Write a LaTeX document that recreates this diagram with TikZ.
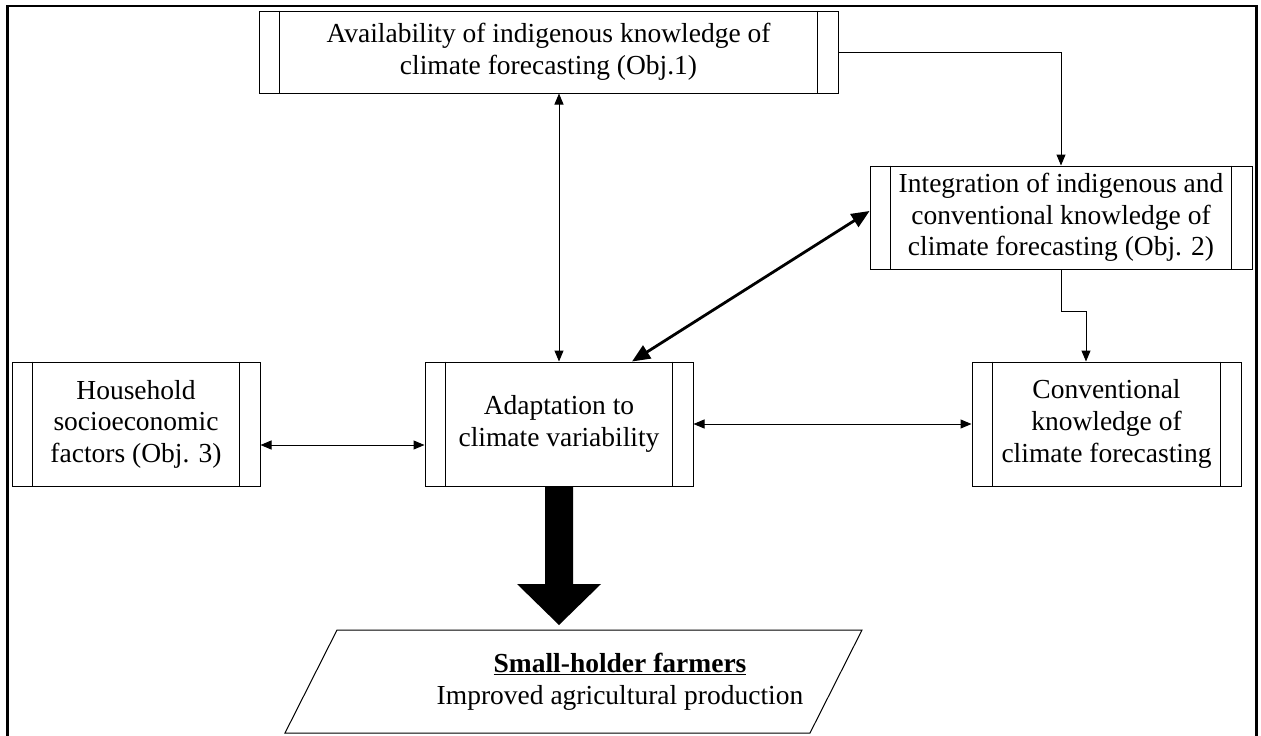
\documentclass[tikz,border=0pt]{standalone}
\usepackage{fontspec}
\setmainfont{Liberation Serif}
\usetikzlibrary{arrows.meta}

\tikzset{
  objbox/.style={draw, line width=1pt, align=center, inner sep=0pt},
  link/.style={line width=1pt, -{Triangle[length=11pt,width=9pt]}},
  twolink/.style={line width=1pt, {Triangle[length=11pt,width=9pt]}-{Triangle[length=11pt,width=9pt]}},
  thicklink/.style={line width=2.8pt, {Triangle[length=18pt,width=15pt]}-{Triangle[length=18pt,width=15pt]}}
}

\begin{document}
\begin{tikzpicture}[x=1pt, y=-1pt, font=\fontsize{27.5}{31.6}\selectfont]
\useasboundingbox (0,0) rectangle (1261,736);
\draw[line width=2.6pt] (7.5,745) -- (7.5,6) -- (1256.5,6) -- (1256.5,745);

\node[objbox, minimum width=579, minimum height=82] (avail) at (548.5,52)
  {Availability of indigenous knowledge of\\climate forecasting (Obj.1)};
\node[objbox, minimum width=382, minimum height=103] (integ) at (1061,217.5)
  {Integration of indigenous and\\conventional knowledge of\\climate forecasting (Obj. 2)};
\node[objbox, minimum width=248, minimum height=124] (house) at (136,424)
  {Household\\socioeconomic\\factors (Obj. 3)};
\node[objbox, minimum width=268, minimum height=124] (adapt) at (559,424)
  {Adaptation to\\climate variability};
\node[objbox, minimum width=269, minimum height=124] (conv) at (1106.5,424)
  {Conventional\\knowledge of\\climate forecasting};

\foreach \n in {avail,integ,house,adapt,conv} {
\draw[line width=1pt] ([xshift=21pt]\n.north west) -- ([xshift=21pt]\n.south west);
\draw[line width=1pt] ([xshift=-21pt]\n.north east) -- ([xshift=-21pt]\n.south east);
}

\draw[twolink] (adapt.north |- avail.south) -- (adapt.north);
\draw[twolink] ([yshift=-21pt]house.east) -- ([yshift=-21pt]adapt.west);
\draw[twolink] (adapt.east) -- (conv.west);
\draw[link] (avail.east) -- (integ.north |- avail.east) -- (integ.north);
\draw[link] (integ.south) -- ++(0,42) -| ([xshift=-20.5pt]conv.north);
\draw[thicklink] ([xshift=73pt]adapt.north) -- ([yshift=6.5pt]integ.west);

% big arrow down to the farmers
\fill (545,486) -- (573,486) -- (573,584) -- (601,584) -- (559,625)
  -- (517,584) -- (545,584) -- cycle;

\draw[line width=1pt] (337,630) -- (862,630) -- (810,733) -- (285,733) -- cycle;
\node[align=center, inner sep=0pt] (farm) at (620,681.5)
  {\underline{\textbf{Small-holder farmers}}\\Improved agricultural production};
\end{tikzpicture}
\end{document}
